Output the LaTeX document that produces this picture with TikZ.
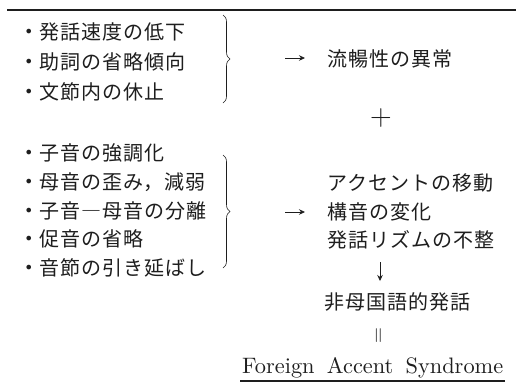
\documentclass[tikz,border=0pt]{standalone}
\usepackage{fontspec}
\newfontfamily\jp[LetterSpace=5]{Noto Sans CJK JP}
\newfontfamily\dvs{DejaVu Sans}
\newfontfamily\lmten{lmroman10-regular.otf}
\usetikzlibrary{decorations.pathreplacing,arrows.meta}
\definecolor{ink}{HTML}{1E1E1E}
\tikzset{
  jtext/.style={anchor=west,inner sep=0pt,text=ink,font=\jp\fontsize{20}{22}\selectfont},
  item/.style={anchor=west,inner sep=0pt,text=ink},
  bracelink/.style={draw=ink,line width=0.6pt,decorate,decoration={brace,amplitude=7pt}},
  arr/.style={draw=ink,line width=0.8pt,-{Stealth[length=6pt,width=5.5pt]}},
  rule/.style={draw=ink,line width=1.3pt}
}
\newcommand{\itm}[1]{\makebox[15pt][l]{\raisebox{2pt}{\dvs\fontsize{16}{18}\selectfont •}}{\jp\fontsize{20}{22}\selectfont #1}}
\begin{document}
\begin{tikzpicture}[x=1pt,y=1pt]
\useasboundingbox (0,0) rectangle (516,-386);
\fill[white] (0,0) rectangle (516,-386);
% top rule
\coordinate (r1) at (7,-10);
\coordinate (r2) at (516,-10);
\draw[rule] (r1) -- (r2);
% group 1
\node[item] (a1) at (24,-32) {\itm{発話速度の低下}};
\node[item] (a2) at (24,-62) {\itm{助詞の省略傾向}};
\node[item] (a3) at (24,-92) {\itm{文節内の休止}};
\coordinate (b1t) at (223,-15);
\coordinate (b1b) at (223,-103);
\draw[bracelink] (b1t) -- (b1b);
\coordinate (ar1s) at (285,-58);
\coordinate (ar1e) at (305,-58);
\draw[arr] (ar1s) -- (ar1e);
\node[jtext] (flu) at (327,-59) {流暢性の異常};
\node[inner sep=0pt,text=ink,font=\fontsize{30}{32}\selectfont] (plus) at (381,-118) {+};
% group 2
\node[item] (c1) at (24,-153) {\itm{子音の強調化}};
\node[item] (c2) at (24,-182) {\itm{母音の歪み，減弱}};
\node[item] (c3) at (24,-211) {\itm{子音―母音の分離}};
\node[item] (c4) at (24,-239) {\itm{促音の省略}};
\node[item] (c5) at (24,-268) {\itm{音節の引き延ばし}};
\coordinate (b2t) at (223,-155);
\coordinate (b2b) at (223,-268);
\draw[bracelink] (b2t) -- (b2b);
\coordinate (ar2s) at (285,-212);
\coordinate (ar2e) at (305,-212);
\draw[arr] (ar2s) -- (ar2e);
\node[jtext] (d1) at (327,-183) {アクセントの移動};
\node[jtext] (d2) at (327,-212) {構音の変化};
\node[jtext] (d3) at (327,-240) {発話リズムの不整};
\coordinate (ar3s) at (380,-262);
\coordinate (ar3e) at (380,-281);
\draw[arr] (ar3s) -- (ar3e);
\node[jtext] (nf) at (324,-302) {非母国語的発話};
\node[inner sep=0pt,text=ink,rotate=90,font=\fontsize{22}{24}\selectfont] (eq) at (380,-336) {=};
\node[anchor=base west,inner sep=0pt,text=ink,font=\lmten\fontsize{22}{26}\selectfont] (fas) at (242,-373) {\resizebox{261pt}{!}{Foreign\hspace{0.55em}Accent\hspace{0.55em}Syndrome}};
\coordinate (u1) at (240,-381);
\coordinate (u2) at (505,-381);
\draw[draw=ink,line width=1.1pt] (u1) -- (u2);
\end{tikzpicture}
\end{document}
